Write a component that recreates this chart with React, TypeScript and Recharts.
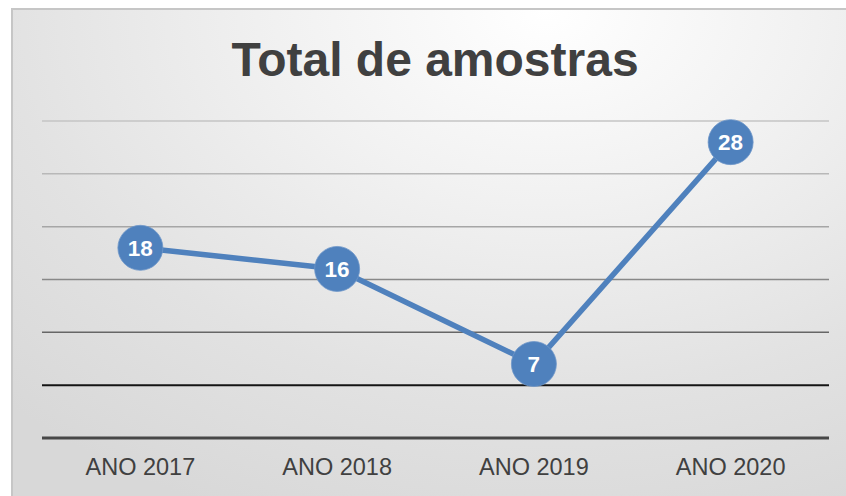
import React from "react";
import { LineChart, Line, XAxis, YAxis, ReferenceLine, LabelList } from "recharts";

const categories = ["ANO 2017", "ANO 2018", "ANO 2019", "ANO 2020"];
const totals = [18, 16, 7, 28];
const gridValues = [5, 10, 15, 20, 25, 30];
const gridColors = ["#141414", "#666666", "#888888", "#a6a6a6", "#b8b8b8", "#c4c4c4"];
const gridWidths = [2, 1.5, 1.5, 1.5, 1.5, 1.5];

const data = categories.map((c, i) => ({ name: c, value: totals[i] }));

const BLUE = "#4f81bd";
const FONT = "'Liberation Sans', Arial, Helvetica, sans-serif";

const Dot = (props: any) => {
  const { cx, cy } = props;
  if (cx == null || cy == null) return null;
  return <circle cx={cx} cy={cy} r={22.5} fill={BLUE} stroke="#6f97c9" strokeWidth={0.8} />;
};

const Label = (props: any) => {
  const { x, y, value } = props;
  return (
    <text
      x={x}
      y={y + 8}
      textAnchor="middle"
      fill="#ffffff"
      fontFamily={FONT}
      fontWeight="bold"
      fontSize={22.5}
    >
      {value}
    </text>
  );
};

export default function App() {
  return (
    <div style={{ position: "fixed", left: 0, top: 0, width: 846, height: 496, background: "#ffffff", overflow: "hidden" }}>
      <div
        style={{
          position: "absolute",
          left: 11,
          top: 8,
          width: 860,
          height: 500,
          borderTop: "2px solid #c6c6c6",
          borderLeft: "2px solid #c6c6c6",
          background:
            "radial-gradient(ellipse 90% 110% at 62% 0%, #ffffff 0%, #f1f1f1 35%, #e2e2e2 70%, #d8d8d8 100%)",
        }}
      />
      <div style={{ position: "absolute", left: 0, top: 0 }}>
        <LineChart
          width={846}
          height={496}
          data={data}
          margin={{ top: 121, right: 17, bottom: 0, left: 42 }}
        >
          <text
            x={435}
            y={76}
            textAnchor="middle"
            fill="#404040"
            fontFamily={FONT}
            fontWeight="bold"
            fontSize={48}
          >
            Total de amostras
          </text>
          <XAxis
            dataKey="name"
            scale="band"
            height={58}
            axisLine={{ stroke: "#474747", strokeWidth: 3 }}
            tickLine={false}
            tick={{ fill: "#404040", fontSize: 23.5, fontFamily: FONT }}
            tickMargin={14}
            interval={0}
          />
          <YAxis hide domain={[0, 30]} ticks={[0, 5, 10, 15, 20, 25, 30]} />
          {gridValues.map((v, i) => (
            <ReferenceLine key={v} y={v} stroke={gridColors[i]} strokeWidth={gridWidths[i]} />
          ))}
          <Line
            type="linear"
            dataKey="value"
            stroke={BLUE}
            strokeWidth={5.5}
            dot={<Dot />}
            activeDot={false}
            isAnimationActive={false}
          >
            <LabelList dataKey="value" content={<Label />} />
          </Line>
        </LineChart>
      </div>
    </div>
  );
}
